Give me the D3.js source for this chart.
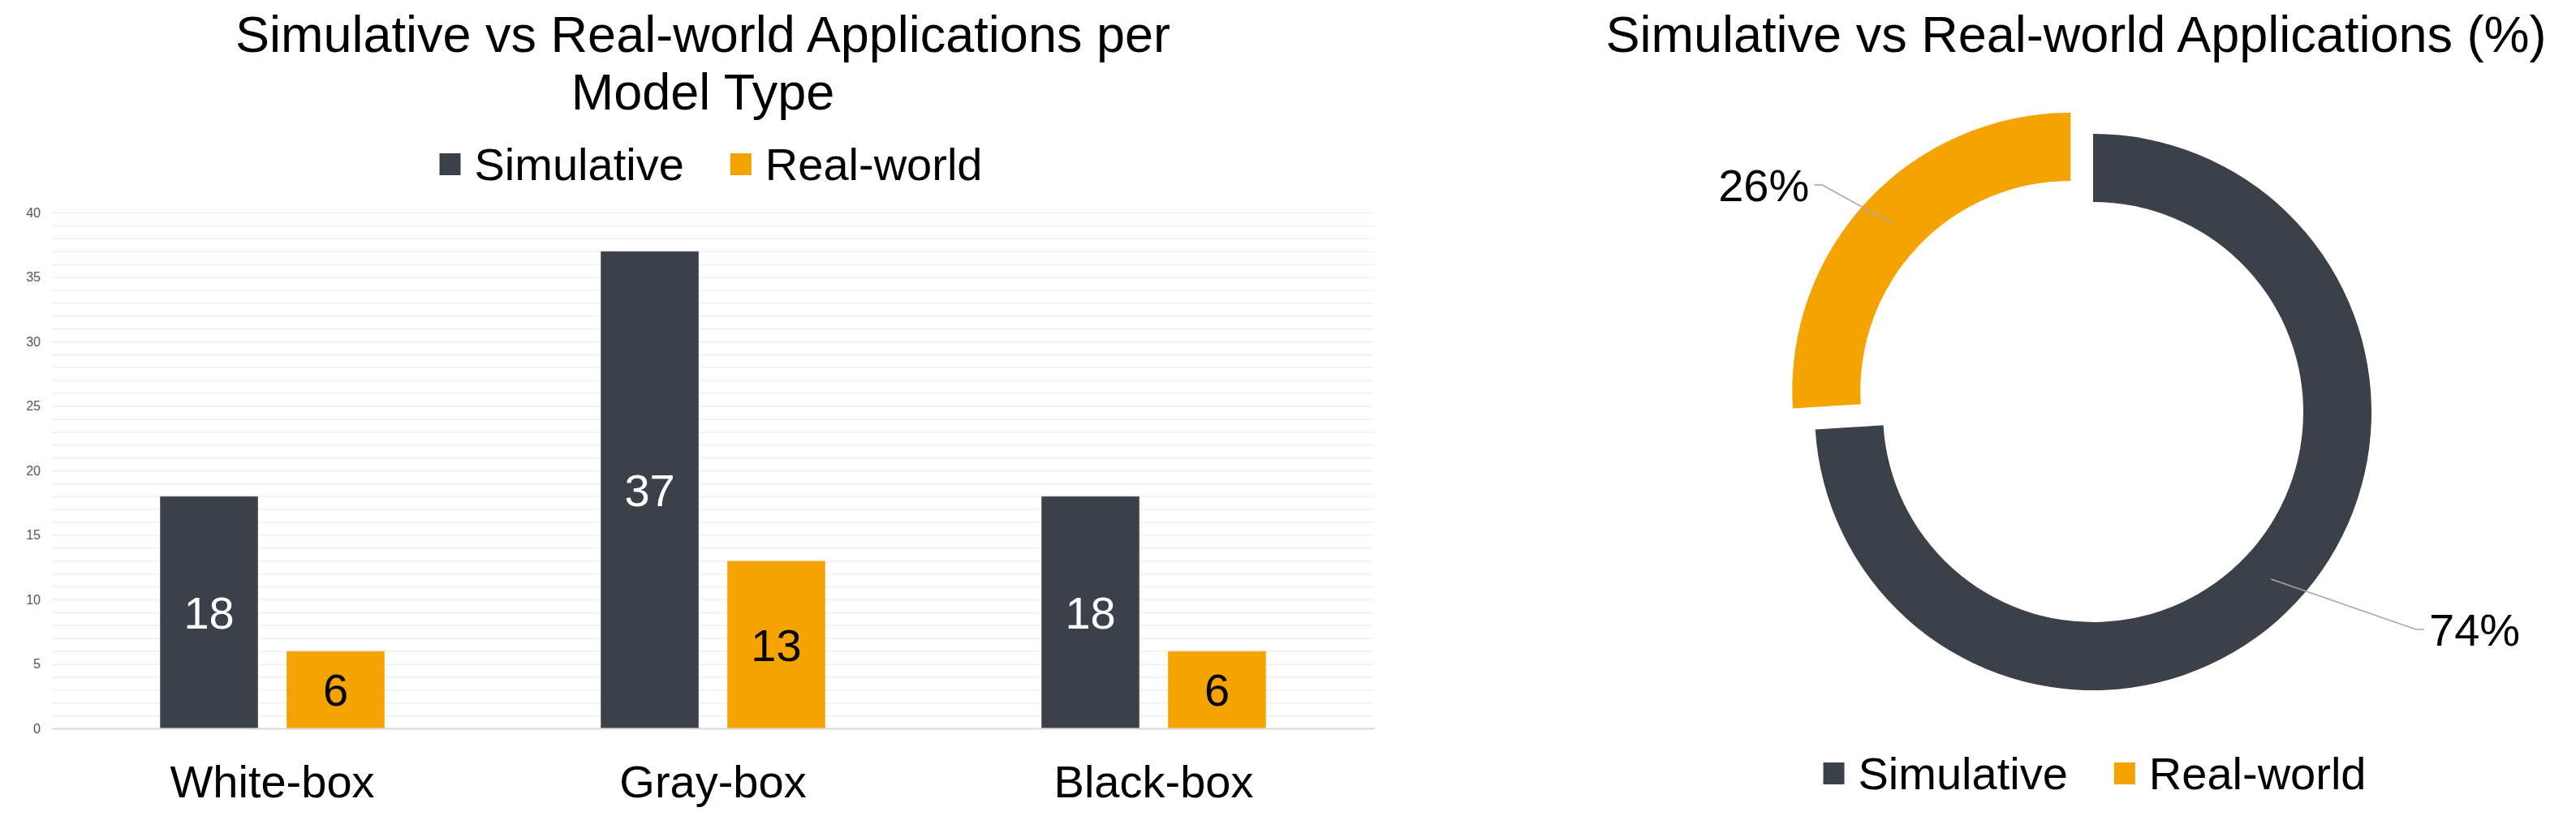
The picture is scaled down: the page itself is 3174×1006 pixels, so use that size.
<!DOCTYPE html>
<html>
<head>
<meta charset="utf-8">
<script src="https://cdn.jsdelivr.net/npm/d3@7"></script>
<style>
  body { margin: 0; background: #fff; }
  text { font-family: "Liberation Sans", Arial, sans-serif; }
</style>
</head>
<body>
<div id="chart"></div>
<script>
// Data
const categories = ["White-box", "Gray-box", "Black-box"];
const seriesNames = ["Simulative", "Real-world"];
const simulative = [18, 37, 18];
const realWorld = [6, 13, 6];
const yTicks = [0, 5, 10, 15, 20, 25, 30, 35, 40];
const shareValues = [74, 26];
const colors = ["#3c4048", "#f4a300"];

const width = 3174;
const height = 1006;

const svg = d3.select("#chart")
              .append("svg")
              .attr("width", width)
              .attr("height", height);

// ---------- Left: grouped bars ----------
const plot = { left: 64, right: 1693, top: 262, bottom: 898 };

const x0 = d3.scaleBand()
             .domain(categories)
             .range([plot.left, plot.right])
             .paddingInner(0.49)
             .paddingOuter(0.245);

const x1 = d3.scaleBand()
             .domain(seriesNames)
             .range([0, x0.bandwidth()])
             .paddingInner(0.224);

const y = d3.scaleLinear()
            .domain([0, 40])
            .range([plot.bottom, plot.top]);

const color = d3.scaleOrdinal().domain(seriesNames).range(colors);

// Minor gridlines, one per unit
svg.append("g")
   .attr("transform", `translate(${plot.left},0)`)
   .call(d3.axisLeft(y)
           .tickValues(d3.range(1, 41))
           .tickSize(-(plot.right - plot.left))
           .tickFormat(""))
   .call(g => g.select(".domain").remove())
   .call(g => g.selectAll("line").attr("stroke", "#f0f0f0").attr("stroke-width", 1.5));

// Y tick labels
svg.append("g")
   .attr("transform", `translate(${plot.left},0)`)
   .call(d3.axisLeft(y).tickValues(yTicks).tickSize(0).tickPadding(14))
   .call(g => g.select(".domain").remove())
   .call(g => g.selectAll("text")
               .attr("font-size", 16)
               .attr("fill", "#595959")
               .style("font-family", "'Liberation Sans', Arial, sans-serif"));

const rows = categories.map((c, i) => ({
    category: c,
    values: [
        { series: "Simulative", value: simulative[i] },
        { series: "Real-world", value: realWorld[i] }
    ]
}));

const group = svg.selectAll(".group")
                 .data(rows)
                 .enter().append("g")
                 .attr("class", "group")
                 .attr("transform", d => `translate(${x0(d.category)},0)`);

group.selectAll("rect")
     .data(d => d.values)
     .enter().append("rect")
     .attr("x", d => x1(d.series))
     .attr("y", d => y(d.value))
     .attr("width", x1.bandwidth())
     .attr("height", d => y(0) - y(d.value))
     .attr("fill", d => color(d.series))
     .attr("stroke", "#fff")
     .attr("stroke-opacity", 0.45)
     .attr("stroke-width", 1);

group.selectAll(".value")
     .data(d => d.values)
     .enter().append("text")
     .attr("class", "value")
     .attr("x", d => x1(d.series) + x1.bandwidth() / 2)
     .attr("y", d => (y(d.value) + y(0)) / 2)
     .attr("dy", "0.36em")
     .attr("text-anchor", "middle")
     .attr("font-size", 56)
     .attr("fill", d => d.series === "Simulative" ? "#fff" : "#000")
     .text(d => d.value);

// X axis with category labels
svg.append("g")
   .attr("transform", `translate(0,${plot.bottom})`)
   .call(d3.axisBottom(x0).tickSize(0).tickSizeOuter(0).tickPadding(45))
   .call(g => g.select(".domain").attr("stroke", "#d9d9d9").attr("stroke-width", 2))
   .call(g => g.selectAll("text")
               .attr("font-size", 56)
               .attr("fill", "#000")
               .style("font-family", "'Liberation Sans', Arial, sans-serif"));

// Title
const leftTitle = svg.append("text")
                     .attr("text-anchor", "middle")
                     .attr("font-size", 63)
                     .attr("fill", "#000");
leftTitle.append("tspan").attr("x", 866).attr("y", 64)
         .text("Simulative vs Real-world Applications per");
leftTitle.append("tspan").attr("x", 866).attr("y", 135)
         .text("Model Type");

// Legend helper
function legend(cx, cy) {
    const items = svg.append("g");
    let offset = 0;
    seriesNames.forEach((name, i) => {
        const item = items.append("g").attr("transform", `translate(${offset},0)`);
        item.append("rect")
            .attr("x", 0)
            .attr("y", -13)
            .attr("width", 26)
            .attr("height", 27)
            .attr("fill", colors[i]);
        const t = item.append("text")
                      .attr("x", 43)
                      .attr("dy", "0.36em")
                      .attr("font-size", 56)
                      .attr("fill", "#000")
                      .text(name);
        offset += 43 + t.node().getComputedTextLength() + 57;
    });
    const total = offset - 57;
    items.attr("transform", `translate(${cx - total / 2},${cy})`);
}

legend(876, 202);

// ---------- Right: donut ----------
const center = { x: 2579, y: 508 };
const outerR = 343;
const innerR = 259;
const explode = 38;

const pie = d3.pie().sort(null).value(d => d);
const arcs = pie(shareValues);
const arc = d3.arc().innerRadius(innerR).outerRadius(outerR);

const donut = svg.append("g")
                 .attr("transform", `translate(${center.x},${center.y})`);

// offset of each slice (only Real-world is pulled out)
function sliceOffset(d, i) {
    if (i !== 1) return [0, 0];
    const a = (d.startAngle + d.endAngle) / 2;
    return [Math.sin(a) * explode, -Math.cos(a) * explode];
}

donut.selectAll(".slice")
     .data(arcs)
     .enter().append("path")
     .attr("class", "slice")
     .attr("transform", (d, i) => `translate(${sliceOffset(d, i)})`)
     .attr("d", arc)
     .attr("fill", (d, i) => colors[i]);

// Data labels with leader lines; elbow positions relative to each slice center
const labelElbows = [[398, 268], [-306, -254]];

arcs.forEach((d, i) => {
    const off = sliceOffset(d, i);
    const c = arc.centroid(d);
    const start = [c[0] + off[0], c[1] + off[1]];
    const elbow = [labelElbows[i][0] + off[0], labelElbows[i][1] + off[1]];
    const side = elbow[0] > 0 ? 1 : -1;
    const end = [elbow[0] + side * 10, elbow[1]];

    donut.append("path")
         .attr("d", d3.line()([start, elbow, end]))
         .attr("fill", "none")
         .attr("stroke", "#a6a6a6")
         .attr("stroke-width", 1.5);

    donut.append("text")
         .attr("x", end[0] + side * 6)
         .attr("y", end[1])
         .attr("dy", "0.36em")
         .attr("text-anchor", side > 0 ? "start" : "end")
         .attr("font-size", 56)
         .attr("fill", "#000")
         .text(d3.format(".0f")(d.value / d3.sum(shareValues) * 100) + "%");
});

svg.append("text")
   .attr("x", 2558)
   .attr("y", 64)
   .attr("text-anchor", "middle")
   .attr("font-size", 63)
   .attr("fill", "#000")
   .text("Simulative vs Real-world Applications (%)");

legend(2581, 953);
</script>
</body>
</html>
